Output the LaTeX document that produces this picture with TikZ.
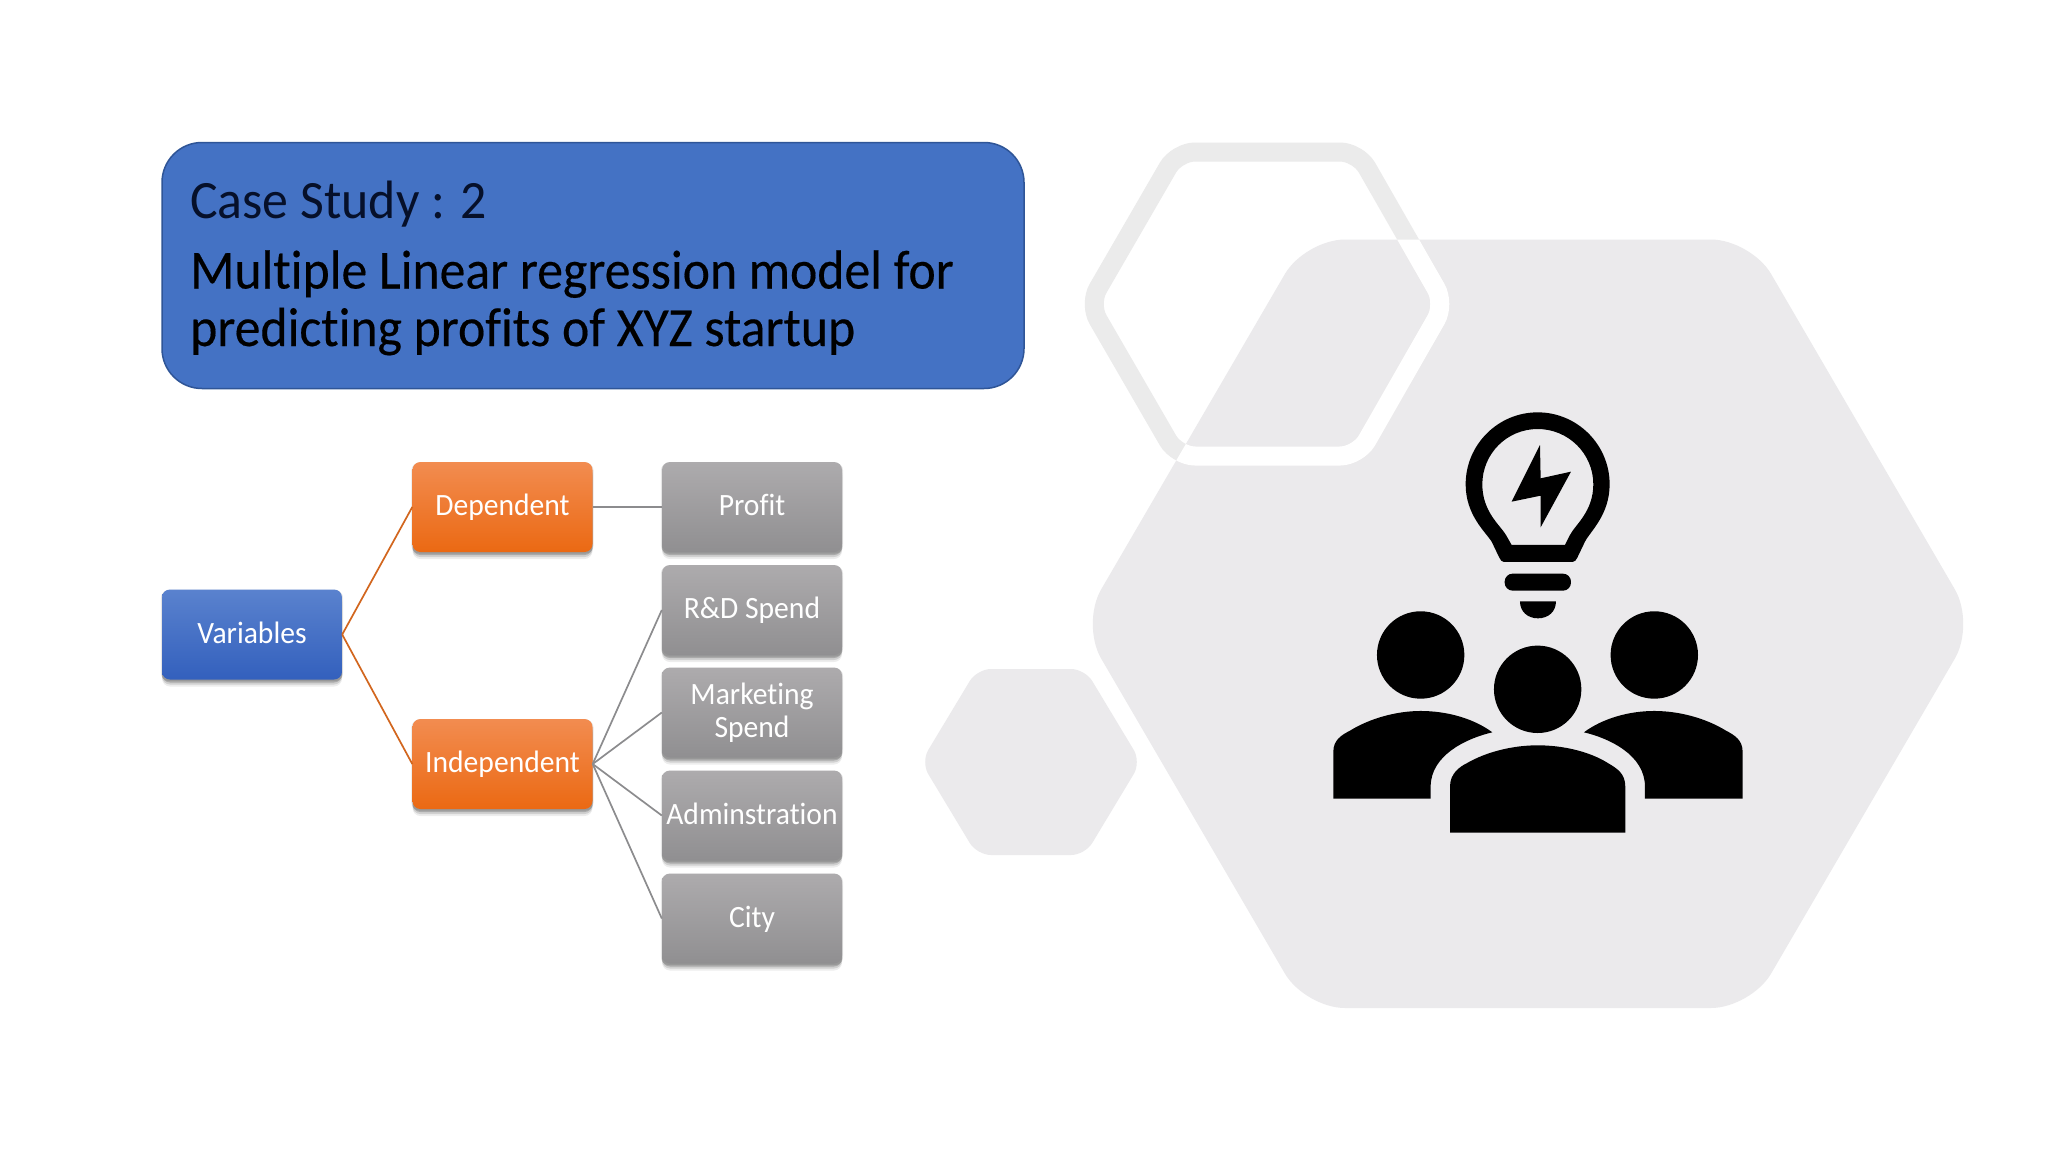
\documentclass[tikz,border=0pt]{standalone}
\usepackage{fontspec}
\setmainfont{Carlito}[Ligatures=NoCommon]
\usetikzlibrary{shadows}
\definecolor{hexgray}{HTML}{EBEAEC}
\definecolor{ringgray}{HTML}{EBEBEB}
\definecolor{titleblue}{HTML}{4472C4}
\definecolor{titleedge}{HTML}{2F5597}
\definecolor{inkdark}{HTML}{06102A}
\definecolor{BoxBlueTop}{HTML}{5A82CE}
\definecolor{BoxBlueBot}{HTML}{3360BD}
\definecolor{BoxOrTop}{HTML}{F28C50}
\definecolor{BoxOrBot}{HTML}{EB6913}
\definecolor{BoxGrTop}{HTML}{ADABAD}
\definecolor{BoxGrBot}{HTML}{908F91}
\definecolor{LineOr}{HTML}{D2661E}
\definecolor{LineGr}{HTML}{8C8C8E}
\tikzset{
  softshadow/.style={
    general shadow={shadow xshift=0pt,shadow yshift=-7pt,opacity=.07,fill=black},
    general shadow={shadow xshift=0pt,shadow yshift=-5pt,opacity=.12,fill=black},
    general shadow={shadow xshift=0pt,shadow yshift=-3pt,opacity=.18,fill=black},
    general shadow={shadow scale=1.012,shadow yshift=-1pt,opacity=.10,fill=black}},
  chartbox/.style={rounded corners=8pt,minimum height=90pt,minimum width=180pt,inner sep=0pt,
    text=white,align=center,font=\fontsize{31}{33}\selectfont\addfontfeature{FakeStretch=0.955},softshadow},
  oneline/.style={text height=23.25pt,text depth=5.6pt},
  bluebox/.style={chartbox,top color=BoxBlueTop,bottom color=BoxBlueBot},
  orangebox/.style={chartbox,top color=BoxOrTop,bottom color=BoxOrBot},
  graybox/.style={chartbox,top color=BoxGrTop,bottom color=BoxGrBot},
  orangeline/.style={draw=LineOr,line width=1.7pt},
  grayline/.style={draw=LineGr,line width=1.7pt},
}
\newcommand{\bighexpath}{(1081,624) -- (1305,239.5) -- (1751,239.5) -- (1975,624) -- (1751,1008) -- (1305,1008) -- cycle}
\newcommand{\ringpath}{(1089,304) -- (1177,152) -- (1358,152) -- (1445,304) -- (1358,456) -- (1177,456) -- cycle}
\begin{document}
\begin{tikzpicture}[x=1pt,y=-1pt]
\useasboundingbox[fill=white] (0,0) rectangle (2048,1152);
% hexagons
\fill[hexgray,rounded corners=40pt] \bighexpath;
\draw[ringgray,line width=19pt,rounded corners=18pt] \ringpath;
\begin{scope}
  \clip[rounded corners=40pt] \bighexpath;
  \draw[white,line width=19pt,rounded corners=18pt] \ringpath;
\end{scope}
\fill[hexgray,rounded corners=14pt] (921,762) -- (977,669) -- (1085,669) -- (1141,762) -- (1085,855) -- (977,855) -- cycle;
% icon
\begin{scope}[x=0.3333pt,y=-0.3333pt,xshift=1300pt,yshift=-390pt]
  \fill[black,even odd rule]
    (612,516) -- (818,516) .. controls (825,516) and (828,510) .. (832,503) -- (855,455)
    .. controls (870,425) and (929,375) .. (929,283)
    .. controls (929,164) and (832,67) .. (713,67)
    .. controls (594,67) and (497,164) .. (497,283)
    .. controls (497,375) and (556,425) .. (575,455) -- (598,503)
    .. controls (602,510) and (605,516) .. (612,516) -- cycle
    (635,465) -- (795,465) -- (810,435)
    .. controls (825,405) and (880,365) .. (880,283)
    .. controls (880,191) and (805,117) .. (713,117)
    .. controls (621,117) and (547,191) .. (547,283)
    .. controls (547,365) and (600,405) .. (618,435) -- cycle;
  \fill[black] (720,165) -- (635,335) -- (722,317) -- (722,412) -- (813,245) -- (722,265) -- cycle;
  \fill[black,rounded corners=8pt] (614,551) rectangle (813,602);
  \fill[black] (660,634) -- (768,634) .. controls (768,665) and (745,685) .. (714,685) .. controls (683,685) and (660,665) .. (660,634) -- cycle;
  \fill[black] (362,795) circle[radius=43.7pt];
  \fill[black] (1063,795) circle[radius=43.7pt];
  \fill[black] (713,898) circle[radius=43.7pt];
  \fill[black] (450,1328) -- (450,1190) .. controls (450,1150) and (480,1130) .. (500,1120)
    .. controls (560,1085) and (640,1066) .. (713,1066)
    .. controls (790,1066) and (870,1085) .. (925,1120)
    .. controls (950,1135) and (976,1150) .. (976,1190) -- (976,1328) -- cycle;
  \fill[black] (100,1226) -- (100,1085) .. controls (100,1050) and (125,1035) .. (150,1022)
    .. controls (210,985) and (290,963) .. (362,963)
    .. controls (440,963) and (520,985) .. (577,1027)
    .. controls (500,1045) and (392,1095) .. (392,1190) -- (392,1226) -- cycle;
  \fill[black] (1328,1226) -- (1328,1085) .. controls (1328,1050) and (1303,1035) .. (1278,1022)
    .. controls (1218,985) and (1138,963) .. (1063,963)
    .. controls (988,963) and (908,985) .. (852,1027)
    .. controls (928,1045) and (1035,1095) .. (1035,1190) -- (1035,1226) -- cycle;
\end{scope}
% title
\node[draw=titleedge,fill=titleblue,line width=1.5pt,rounded corners=40pt,minimum width=862pt,minimum height=246pt,inner sep=0pt] (banner) at (593,265.5) {};
\node[anchor=base west,inner sep=0pt,text=inkdark,font=\fontsize{54}{58}\selectfont\addfontfeature{FakeStretch=0.96}] (casetitle) at (190,218) {Case Study : 2};
\node[anchor=base west,inner sep=0pt,text=black,align=left,font=\fontsize{55}{57.5}\selectfont\addfontfeature{FakeStretch=0.94,FakeBold=0.3}] (maintitle) at (190,346) {Multiple Linear regression model for\\predicting profits of XYZ startup};
% chart
\node[bluebox,oneline] (vars) at (252,634.5) {Variables};
\node[orangebox,oneline] (dep) at (502.5,507) {Dependent};
\node[orangebox,oneline] (ind) at (502.5,764) {Independent};
\node[graybox,oneline] (profit) at (752,507) {Profit};
\node[graybox,oneline] (rd) at (752,610) {R\&D Spend};
\node[graybox] (mkt) at (752,712.5) {Marketing\\Spend};
\node[graybox,oneline] (admin) at (752,815.5) {Adminstration};
\node[graybox,oneline] (city) at (752,918.5) {City};
\draw[orangeline] (vars.east) -- (dep.west);
\draw[orangeline] (vars.east) -- (ind.west);
\draw[grayline] (dep.east) -- (profit.west);
\draw[grayline] (ind.east) -- (rd.west);
\draw[grayline] (ind.east) -- (mkt.west);
\draw[grayline] (ind.east) -- (admin.west);
\draw[grayline] (ind.east) -- (city.west);
\end{tikzpicture}
\end{document}
